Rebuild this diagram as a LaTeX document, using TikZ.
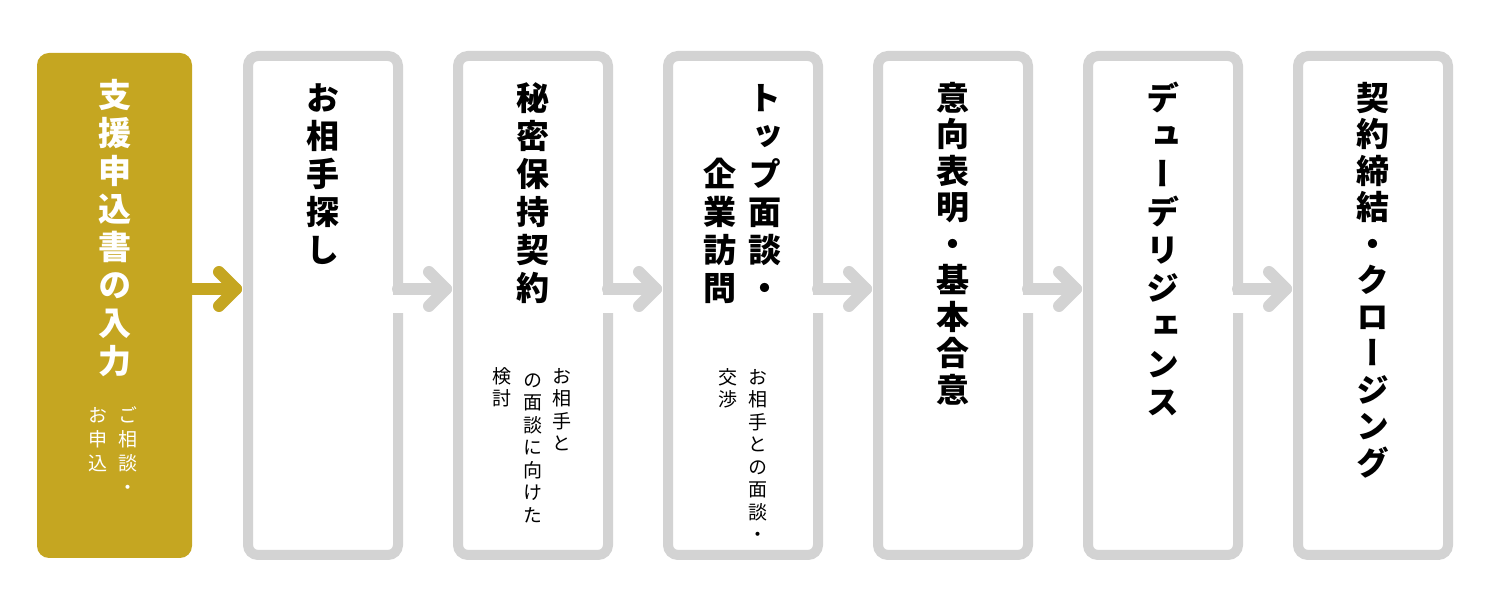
\documentclass[tikz,border=0pt]{standalone}
\usepackage{fontspec}
\usetikzlibrary{positioning}
\newfontfamily\jpfont[RawFeature={+vert}]{Noto Sans CJK JP}
\definecolor{gold}{RGB}{197,166,33}
\definecolor{framegray}{RGB}{211,211,211}

\begin{document}
\begin{tikzpicture}[x=1pt, y=1pt, node distance=0pt]
	\tikzstyle{frame}=[draw=framegray, line width=10pt, rounded corners=10pt,
		minimum width=150pt, minimum height=499pt, inner sep=0pt, outer sep=0pt]
	\tikzstyle{first}=[fill=gold, rounded corners=12pt,
		minimum width=155pt, minimum height=505pt, inner sep=0pt, outer sep=0pt]
	\tikzstyle{title}=[align=center, inner sep=0pt,
		font=\jpfont\bfseries\fontsize{33}{38}\selectfont]
	\tikzstyle{tight title}=[title,
		font=\jpfont\bfseries\fontsize{33}{36.5}\selectfont]
	\tikzstyle{note}=[align=center, inner sep=0pt,
		font=\jpfont\fontsize{19}{22.5}\selectfont]
	\tikzstyle{link}=[framegray, line width=12pt, line cap=round, line join=round]
	\useasboundingbox (0,0) rectangle (1500,600);
	% % Boxes
	\node[first] (b1) at (114.5,294.5) {};
	\node[frame, right=56pt of b1] (b2) {};
	\node[frame, right=60pt of b2] (b3) {};
	\node[frame, right=60pt of b3] (b4) {};
	\node[frame, right=60pt of b4] (b5) {};
	\node[frame, right=60pt of b5] (b6) {};
	\node[frame, right=60pt of b6] (b7) {};
	% % Titles
	% application
	\node[title, text=white, below=24pt of b1.north] (t1)
	{\rule{0pt}{30pt}支\\援\\申\\込\\書\\の\\入\\力};
	% search
	\node[title, below=24pt of b2.north] (t2)
	{\rule{0pt}{30pt}お\\相\\手\\探\\し};
	% NDA
	\node[title, below=24pt of b3.north] (t3)
	{\rule{0pt}{30pt}秘\\密\\保\\持\\契\\約};
	% meeting
	\node[title, below=24pt of b4.north, xshift=22pt] (t4)
	{\rule{0pt}{30pt}ト\\ッ\\プ\\面\\談\\・};
	\node[title, anchor=north] (t4b) at ([xshift=-45pt, yshift=-76pt]t4.north)
	{\rule{0pt}{30pt}企\\業\\訪\\問};
	% LOI
	\node[tight title, below=24pt of b5.north] (t5)
	{\rule{0pt}{30pt}意\\向\\表\\明\\・\\基\\本\\合\\意};
	% due diligence
	\node[title, below=24pt of b6.north] (t6)
	{\rule{0pt}{30pt}デ\\ュ\\ー\\デ\\リ\\ジ\\ェ\\ン\\ス};
	% closing
	\node[tight title, below=24pt of b7.north] (t7)
	{\rule{0pt}{30pt}契\\約\\締\\結\\・\\ク\\ロ\\ー\\ジ\\ン\\グ};
	% % Notes
	\node[note, text=white, below=352pt of b1.north, xshift=13.5pt,
		font=\jpfont\fontsize{19}{24}\selectfont] (n1)
	{\rule{0pt}{17pt}ご\\相\\談\\・};
	\node[note, text=white, anchor=north,
		font=\jpfont\fontsize{19}{24}\selectfont] (n1b) at ([xshift=-30pt]n1.north)
	{\rule{0pt}{17pt}お\\申\\込};
	\node[note, below=310pt of b3.north, xshift=29pt] (n3)
	{\rule{0pt}{17pt}お\\相\\手\\と};
	\node[note, anchor=north] (n3b) at ([xshift=-29pt, yshift=-4pt]n3.north)
	{\rule{0pt}{17pt}の\\面\\談\\に\\向\\け\\た};
	\node[note, anchor=north] (n3c) at ([xshift=-60pt]n3.north)
	{\rule{0pt}{17pt}検\\討};
	\node[note, below=311pt of b4.north, xshift=15pt] (n4)
	{\rule{0pt}{17pt}お\\相\\手\\と\\の\\面\\談\\・};
	\node[note, anchor=north] (n4b) at ([xshift=-30pt]n4.north)
	{\rule{0pt}{17pt}交\\渉};
	% % Connectors
	\foreach \i in {2,...,6}
		\fill[white] ([xshift=-6pt, yshift=10.5pt]b\i.east)
			rectangle ([xshift=6pt, yshift=-7.5pt]b\i.east);
	\foreach \i/\j in {1/2,2/3,3/4,4/5,5/6,6/7} {
		\coordinate (tip\i) at ([xshift=-12pt, yshift=16.5pt]b\j.west);
	}
	\draw[link, gold] ([yshift=16.5pt]b1.east) -- (tip1);
	\draw[link, gold] ([shift={(-17pt,17pt)}]tip1) -- (tip1)
		-- ([shift={(-17pt,-17pt)}]tip1);
	\foreach \i in {2,...,6} {
		\draw[link] ([yshift=16.5pt]b\i.east) -- (tip\i);
		\draw[link] ([shift={(-17pt,17pt)}]tip\i) -- (tip\i)
			-- ([shift={(-17pt,-17pt)}]tip\i);
	}
\end{tikzpicture}
\end{document}
